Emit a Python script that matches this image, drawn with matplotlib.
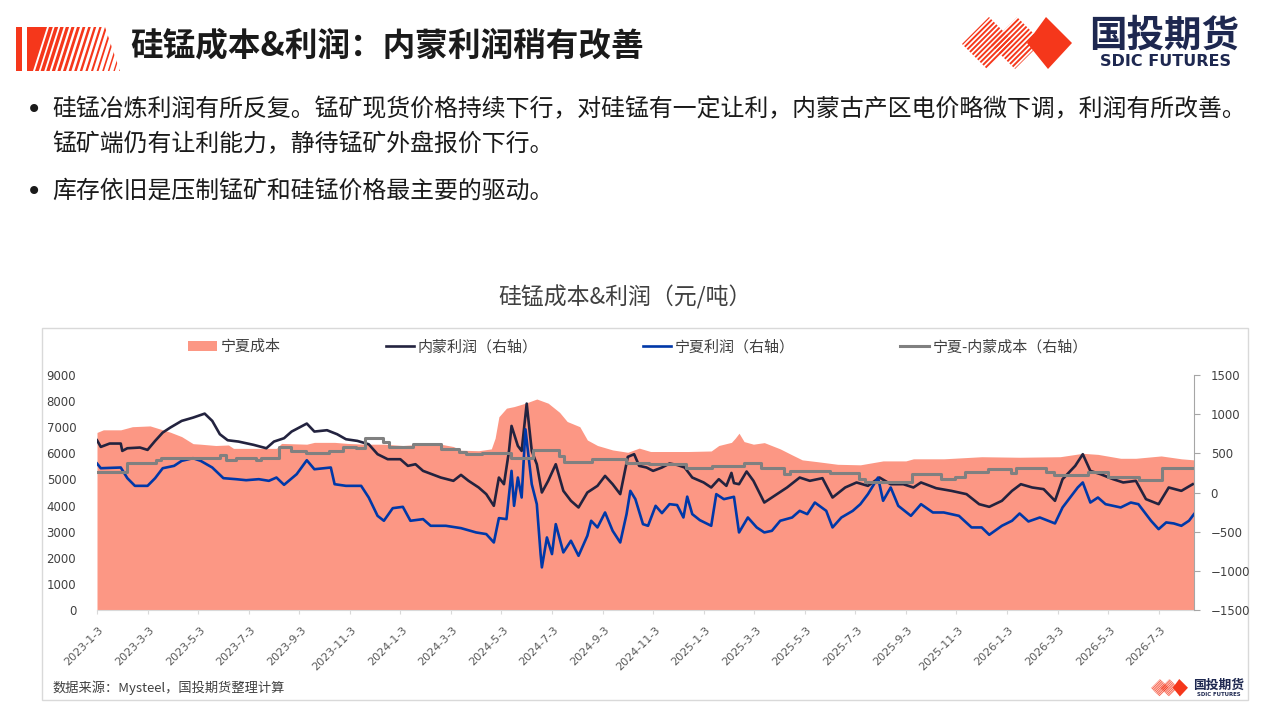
import numpy as np
import matplotlib
matplotlib.use('Agg')
import matplotlib.pyplot as plt
from matplotlib.patches import Polygon, Rectangle
from matplotlib.transforms import ScaledTranslation

plt.rcParams['font.family'] = ['Noto Sans CJK SC', 'DejaVu Sans']

# ---- data (x = months since 2023-1-3) ----
x_labels = ['2023-1-3', '2023-3-3', '2023-5-3', '2023-7-3', '2023-9-3', '2023-11-3',
            '2024-1-3', '2024-3-3', '2024-5-3', '2024-7-3', '2024-9-3', '2024-11-3',
            '2025-1-3', '2025-3-3', '2025-5-3', '2025-7-3', '2025-9-3', '2025-11-3',
            '2026-1-3', '2026-3-3', '2026-5-3', '2026-7-3']

# 宁夏成本 (left axis)
cost_t = [0, 0.25, 0.94, 1.4, 2.1, 2.4, 2.9, 3.35, 3.8, 4.1,
          4.7, 5.2, 5.4, 7.1, 7.3, 8.3, 8.6, 9.4, 9.9, 10.6,
          11.35, 12.1, 12.9, 13.6, 14.1, 14.4, 15.1, 15.6, 15.75, 15.9,
          16.2, 16.5, 16.95, 17.4, 17.85, 18.3, 18.6, 19.1, 19.4, 19.8,
          20.4, 21.0, 21.45, 21.9, 23.4, 24.3, 24.6, 25.1, 25.25, 25.4,
          25.6, 25.97, 26.4, 27.03, 27.5, 27.9, 28.5, 29.3, 30.2, 31.1,
          32.0, 32.3, 33.5, 35.0, 36.5, 38.1, 39.0, 39.6, 40.5, 41.1,
          42.1, 42.9, 43.4]
cost_v = [6800, 6900, 6900, 7020, 7050, 6960, 6810, 6640, 6370, 6350,
          6300, 6320, 6190, 6190, 6380, 6350, 6420, 6420, 6380, 6350,
          6350, 6300, 6350, 6350, 6260, 6120, 6100, 6170, 6580, 7400,
          7730, 7790, 7920, 8080, 7920, 7570, 7220, 7020, 6510, 6300,
          6130, 6040, 6200, 6070, 6070, 6090, 6300, 6420, 6580, 6770,
          6450, 6350, 6410, 6170, 5940, 5750, 5680, 5580, 5560, 5710,
          5710, 5790, 5790, 5870, 5850, 5870, 6000, 5960, 5810, 5810,
          5900, 5790, 5750]

# 内蒙利润 (right axis)
nm_t = [0, 0.15, 0.5, 0.94, 1.0, 1.2, 1.7, 2.0, 2.3, 2.6,
        2.9, 3.35, 3.8, 4.26, 4.56, 4.86, 5.17, 5.6, 6.2, 6.7,
        7.0, 7.4, 7.7, 8.3, 8.6, 9.1, 9.5, 9.85, 10.3, 10.75,
        11.1, 11.5, 12.0, 12.3, 12.6, 12.9, 13.6, 14.1, 14.4, 14.7,
        15.1, 15.4, 15.7, 15.9, 16.1, 16.3, 16.4, 16.65, 16.8, 17.0,
        17.2, 17.4, 17.6, 17.85, 18.15, 18.45, 18.75, 19.05, 19.4, 19.8,
        20.1, 20.4, 20.7, 21.0, 21.25, 21.45, 21.74, 22.0, 22.35, 22.65,
        22.95, 23.25, 23.55, 24.0, 24.3, 24.6, 24.9, 25.1, 25.2, 25.4,
        25.7, 25.97, 26.4, 26.9, 27.3, 27.8, 28.2, 28.7, 29.1, 29.6,
        30.05, 30.5, 30.96, 31.4, 31.9, 32.3, 32.6, 33.2, 33.8, 34.4,
        34.9, 35.3, 35.8, 36.2, 36.55, 37.0, 37.45, 37.9, 38.2, 38.7,
        39.0, 39.3, 39.7, 40.2, 40.6, 41.1, 41.5, 42.0, 42.4, 42.9,
        43.35]
nm_v = [667, 582, 625, 625, 531, 565, 574, 544, 659, 765,
        829, 914, 956, 1007, 914, 744, 667, 650, 608, 565,
        650, 693, 778, 880, 778, 795, 744, 680, 659, 616,
        489, 425, 425, 340, 361, 276, 191, 149, 225, 149,
        64, -21, -170, 191, 106, 531, 850, 595, 531, 1135,
        531, 361, 0, 149, 361, 21, -106, -191, 0, 85,
        212, 106, -21, 455, 489, 340, 319, 276, 319, 370,
        352, 319, 191, 128, 64, 170, 85, 250, 120, 106,
        268, 149, -128, -21, 64, 191, 149, 183, -64, 64,
        128, 85, 191, 106, 106, 64, 128, 55, 21, -21,
        -149, -183, -106, 21, 106, 64, 43, -106, 170, 340,
        489, 276, 234, 170, 128, 149, -85, -149, 64, 21,
        106]

# 宁夏利润 (right axis)
nx_t = [0, 0.15, 0.94, 1.2, 1.5, 2.0, 2.3, 2.6, 3.05, 3.35,
        3.8, 4.1, 4.56, 5.0, 5.5, 5.9, 6.4, 6.8, 7.1, 7.4,
        7.9, 8.3, 8.6, 9.25, 9.4, 9.85, 10.45, 10.75, 11.1, 11.35,
        11.7, 12.1, 12.4, 12.9, 13.2, 13.8, 14.4, 15.0, 15.4, 15.7,
        15.9, 16.2, 16.4, 16.5, 16.65, 16.8, 16.95, 17.2, 17.4, 17.55,
        17.6, 17.8, 18.0, 18.15, 18.45, 18.75, 19.05, 19.4, 19.55, 19.8,
        20.1, 20.4, 20.7, 20.95, 21.1, 21.3, 21.44, 21.6, 21.8, 22.1,
        22.35, 22.65, 22.95, 23.2, 23.35, 23.55, 23.85, 24.3, 24.5, 24.8,
        25.2, 25.4, 25.75, 26.1, 26.4, 26.7, 27.03, 27.5, 27.8, 28.1,
        28.4, 28.85, 29.1, 29.45, 29.9, 30.2, 30.5, 30.9, 31.1, 31.4,
        31.7, 32.2, 32.6, 33.07, 33.5, 34.1, 34.6, 35.0, 35.3, 35.8,
        36.2, 36.5, 36.85, 37.3, 37.9, 38.2, 38.5, 38.8, 39.0, 39.3,
        39.6, 39.9, 40.5, 40.9, 41.2, 41.7, 42.0, 42.3, 42.6, 42.9,
        43.2, 43.4]
nx_v = [370, 310, 319, 183, 85, 85, 183, 310, 340, 404,
        438, 404, 319, 183, 170, 157, 170, 149, 191, 98,
        234, 412, 297, 319, 106, 85, 85, -64, -298, -361,
        -200, -183, -361, -340, -425, -425, -455, -510, -531, -638,
        -327, -340, 276, -170, 191, -64, 807, 106, -149, -786,
        -956, -574, -786, -404, -765, -616, -808, -552, -361, -446,
        -255, -489, -638, -276, 21, -85, -234, -404, -425, -170,
        -263, -149, -160, -319, -53, -276, -353, -425, -21, -85,
        -55, -510, -319, -446, -510, -489, -361, -319, -234, -276,
        -128, -234, -446, -319, -234, -149, -21, 191, -106, 64,
        -170, -298, -149, -255, -255, -298, -446, -446, -540, -425,
        -361, -268, -370, -319, -395, -191, -64, 64, 128, -128,
        -64, -149, -191, -128, -149, -361, -468, -382, -395, -425,
        -361, -276]

# 宁夏-内蒙成本 (right axis, stepped)
diff_t = [0, 1.17, 2.35, 2.55, 4.85, 5.12, 5.51, 6.3, 6.5, 7.22,
          7.68, 8.27, 9.19, 9.72, 10.24, 10.6, 11.3, 11.57, 12.49, 13.61,
          14.34, 14.6, 15.25, 16.37, 17.23, 18.28, 18.48, 19.6, 20.91, 21.83,
          23.3, 24.35, 25.6, 26.25, 27.16, 27.43, 29.0, 30.13, 30.39, 32.23,
          33.4, 33.94, 34.33, 35.25, 36.17, 36.37, 37.55, 37.88, 39.2, 39.98,
          40.38, 41.23, 42.15, 43.4]
diff_v = [266, 381, 420, 445, 480, 411, 445, 411, 445, 577,
          531, 500, 531, 577, 570, 692, 650, 585, 619, 551,
          520, 492, 506, 436, 543, 460, 394, 423, 372, 364,
          309, 342, 381, 309, 236, 279, 245, 178, 130, 236,
          168, 198, 258, 300, 250, 309, 260, 223, 258, 200,
          194, 160, 309, 309]

RED = '#f5371b'
FILL = '#fc9784'
NAVY = '#23233f'
BLUE = '#0038a8'
GRAY = '#808080'
TXT = '#404040'

fig = plt.figure(figsize=(12.8, 7.2), dpi=100)

# background layer in pixel coordinates
bg = fig.add_axes([0, 0, 1, 1])
bg.set_xlim(0, 1280)
bg.set_ylim(720, 0)
bg.axis('off')


def stripes(ax, clip_poly, x_starts, y_top, y_bot, dx, widths, color):
    clip = Polygon(clip_poly, closed=True, fc='none', ec='none')
    ax.add_patch(clip)
    for xs, w in zip(x_starts, widths):
        p = Polygon([(xs, y_top), (xs + w, y_top), (xs + w - dx, y_bot), (xs - dx, y_bot)],
                    closed=True, fc=color, ec='none')
        ax.add_patch(p)
        p.set_clip_path(clip)


def draw_logo(ax, ox, oy, s, big_size, small_size):
    def T(pts):
        return [(ox + (x - 962) * s, oy + (y - 17) * s) for x, y in pts]
    dia_a = T([(962, 44), (989, 17), (1014, 42), (987, 69)])
    dia_b = T([(990, 44), (1017, 17), (1042, 42), (1015, 69)])
    dia_s = T([(1027, 43), (1046, 17), (1072, 43), (1048, 69)])
    xs = [ox + (962 + 5.2 * i - 962) * s for i in range(0, 26)]
    for d in (dia_a, dia_b):
        stripes(ax, d, xs, oy, oy + 52 * s, 52 * s, [2.7 * s] * len(xs), RED)
    ax.add_patch(Polygon(dia_s, closed=True, fc=RED, ec='none'))
    ax.text(ox + (1164 - 962) * s, oy + (35 - 17) * s, '国投期货', ha='center', va='center',
            fontsize=big_size, fontweight='bold', color='#1e2850')
    ax.text(ox + (1165 - 962) * s, oy + (62 - 17) * s, 'SDIC FUTURES', ha='center', va='center',
            fontsize=small_size, fontweight='bold', color='#1e2850', family='DejaVu Sans')


# title decoration
bg.add_patch(Rectangle((16, 27), 6, 44, fc=RED, ec='none'))
bg.add_patch(Polygon([(27, 27), (47, 27), (33, 71), (27, 71)], closed=True, fc=RED, ec='none'))
n = 16
stripes(bg, [(27, 27), (105, 27), (120, 71), (27, 71)],
        [49 + 5.6 * i for i in range(n)], 27, 71, 14,
        [max(3.8 - 0.17 * i, 1.0) for i in range(n)], RED)

bg.text(130, 46, '硅锰成本&利润：内蒙利润稍有改善', ha='left', va='center',
        fontsize=23.5, fontweight='bold', color='#1a1a1a')

draw_logo(bg, 962, 17, 1.0, 27, 11.5)

# bullet text
bullets = [(110, '•', '硅锰冶炼利润有所反复。锰矿现货价格持续下行，对硅锰有一定让利，内蒙古产区电价略微下调，利润有所改善。'),
           (145, '', '锰矿端仍有让利能力，静待锰矿外盘报价下行。'),
           (192, '•', '库存依旧是压制锰矿和硅锰价格最主要的驱动。')]
for yy, mark, line in bullets:
    if mark:
        bg.text(26, yy, mark, ha='left', va='center', fontsize=20, color='#1a1a1a',
                family='DejaVu Sans')
    bg.text(52, yy, line, ha='left', va='center', fontsize=17.2, color='#1a1a1a')

bg.text(625, 297, '硅锰成本&利润（元/吨）', ha='center', va='center', fontsize=16.5, color=TXT)
bg.add_patch(Rectangle((42, 328), 1206, 372, fc='none', ec='#d9d9d9', lw=1))
bg.text(52, 688, '数据来源：Mysteel，国投期货整理计算', ha='left', va='center', fontsize=9.5, color=TXT)
draw_logo(bg, 1151, 679, 0.336, 9.2, 3.9)

# chart
ax = fig.add_axes([97 / 1280, 110 / 720, 1097 / 1280, 235 / 720])
ax.set_facecolor('none')
ax2 = ax.twinx()

h0 = ax.fill_between(cost_t, cost_v, 0, color=FILL, lw=0, label='宁夏成本')
h1, = ax2.plot(nm_t, nm_v, color=NAVY, lw=1.9, label='内蒙利润（右轴）')
h2, = ax2.plot(nx_t, nx_v, color=BLUE, lw=1.9, label='宁夏利润（右轴）')
h3, = ax2.step(diff_t, diff_v, where='post', color=GRAY, lw=2.2, label='宁夏-内蒙成本（右轴）')

ax.set_xlim(0, 43.4)
ax.set_ylim(0, 9000)
ax.set_yticks(range(0, 9001, 1000))
ax2.set_ylim(-1500, 1500)
ax2.set_yticks(range(-1500, 1501, 500))

for sp in ('left', 'top', 'right'):
    ax.spines[sp].set_visible(False)
ax.spines['bottom'].set_color('#d9d9d9')
for sp in ('left', 'top', 'bottom'):
    ax2.spines[sp].set_visible(False)
ax2.spines['right'].set_color('#a6a6a6')

ax.tick_params(axis='y', length=0, pad=15, labelsize=8.5, labelcolor=TXT)
ax2.tick_params(axis='y', length=4, color='#a6a6a6', pad=8, labelsize=8.5, labelcolor=TXT)
ax.set_xticks(range(0, 43, 2))
ax.set_xticklabels(x_labels, rotation=45, ha='right', va='center', rotation_mode='anchor',
                   fontsize=8, color='#595959')
ax.tick_params(axis='x', length=3, color='#d9d9d9', pad=10)
shift = ScaledTranslation(5 / 100, 0, fig.dpi_scale_trans)
for lbl in ax.get_xticklabels():
    lbl.set_transform(lbl.get_transform() + shift)
    lbl.set_fontfamily('DejaVu Sans')
for lbl in ax.get_yticklabels() + ax2.get_yticklabels():
    lbl.set_fontfamily('DejaVu Sans')

fig.legend([h0, h1, h2, h3], [h.get_label() for h in (h0, h1, h2, h3)],
           loc='center', bbox_to_anchor=(638 / 1280, 1 - 347 / 720), ncol=4, frameon=False,
           fontsize=10.8, handlelength=1.9, handletextpad=0.25, columnspacing=7.0,
           labelcolor=TXT)

fig.savefig('out.png', dpi=100)
